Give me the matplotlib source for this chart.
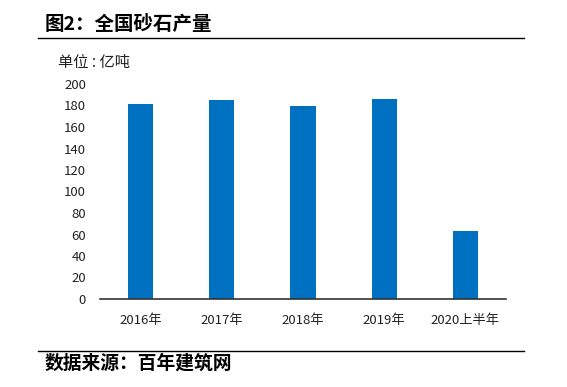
import matplotlib
matplotlib.use("Agg")
import matplotlib.pyplot as plt
from matplotlib.lines import Line2D

plt.rcParams['font.family'] = ['Noto Sans CJK SC', 'DejaVu Sans']

# data
years = ['2016年', '2017年', '2018年', '2019年', '2020上半年']
output = [181, 185, 180, 186, 63]
yticks = list(range(0, 201, 20))

fig = plt.figure(figsize=(5.67, 3.87), dpi=100)
ax = fig.add_axes([100 / 567, 1 - 299 / 387, 406 / 567, 215 / 387])

x = range(len(years))
ax.bar(x, output, width=0.31, color='#0070C0', zorder=2)

ax.set_xlim(-0.5, len(years) - 0.5)
ax.set_ylim(0, 200)
ax.set_yticks(yticks)
ax.set_xticks(list(x))
ax.set_xticklabels(years)
ax.tick_params(axis='both', length=0, labelsize=9.5, colors='#222222')
ax.tick_params(axis='x', pad=11)
ax.tick_params(axis='y', pad=10)
for s in ['left', 'right', 'top']:
    ax.spines[s].set_visible(False)
ax.spines['bottom'].set_color('#333333')
ax.spines['bottom'].set_linewidth(1.2)

# title, unit and source
fig.text(45 / 567, 1 - 25 / 387, '图2：全国砂石产量', fontsize=14, weight='bold',
         ha='left', va='center', color='black')
fig.add_artist(Line2D([38 / 567, 524 / 567], [1 - 37.5 / 387, 1 - 37.5 / 387],
                      color='black', linewidth=1))
fig.text(58 / 567, 1 - 63 / 387, '单位 : 亿吨', fontsize=11, ha='left', va='center',
         color='#222222')
fig.add_artist(Line2D([38 / 567, 524 / 567], [1 - 351 / 387, 1 - 351 / 387],
                      color='black', linewidth=1))
fig.text(45 / 567, 1 - 363 / 387, '数据来源：百年建筑网', fontsize=13.5, weight='bold',
         ha='left', va='center', color='black')

fig.savefig('out.png', dpi=100)
